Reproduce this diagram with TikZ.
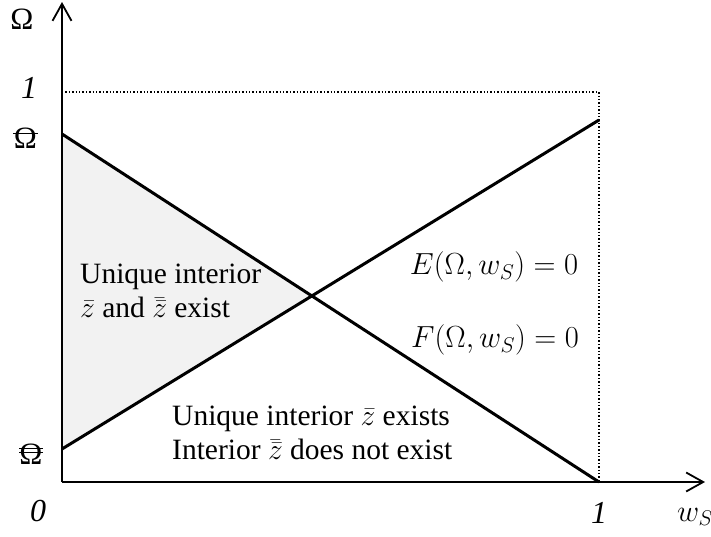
\RequirePackage{fix-cm}
\documentclass[tikz,border=0pt]{standalone}
\usepackage{fontspec}
\setmainfont{Liberation Serif}
\usetikzlibrary{arrows.meta}
\begin{document}
\begin{tikzpicture}[x=1pt,y=-1pt,
  axisline/.style={line width=1.8pt,-{Straight Barb[length=17pt,width=19pt,line width=1.8pt]}},
  curve/.style={line width=3pt},
  guide/.style={line width=1.4pt,dotted},
  barline/.style={line width=1.5pt},
  omlbl/.style={inner sep=0pt,font=\fontsize{31}{34}\selectfont},
  eqn/.style={inner sep=0pt,font=\fontsize{30.5}{34}\selectfont},
  num/.style={inner sep=0pt,font=\fontsize{32}{36}\selectfont\itshape},
  txt/.style={inner sep=0pt,align=left,font=\fontsize{29.5}{34.5}\selectfont}]
\useasboundingbox (0,0) rectangle (711,536);
\coordinate (O) at (62,482);
\coordinate (Ytop) at (62,2);
\coordinate (Xend) at (705,482);
\coordinate (Eleft) at (62,449);
\coordinate (Eright) at (599,120);
\coordinate (Fleft) at (62,134);
\coordinate (Fright) at (599,482);
\coordinate (Ione) at (62,92);
\coordinate (Corner) at (599,92);
\coordinate (X) at (312,296);
% shaded region
\fill[gray!10] (Fleft) -- (X) -- (Eleft) -- cycle;
% dotted guides
\draw[guide] (Ione) -- (Corner) -- (Fright);
% lines
\draw[curve] (Eleft) -- (Eright);
\draw[curve] (Fleft) -- (Fright);
% axes
\draw[axisline] (O) -- (Ytop);
\draw[axisline] (O) -- (Xend);
% curve labels
\node[eqn] (lE) at (494,267) {$E(\Omega,w_S)=0$};
\node[eqn] (lF) at (495,340) {$F(\Omega,w_S)=0$};
% axis labels
\node[omlbl] (lOmega) at (22,19) {Ω};
\node[num] (lone) at (29,88) {1};
\node[omlbl] (lOmbar) at (25.5,138) {Ω};
\draw[barline] ([xshift=-0.5pt,yshift=-6pt]lOmbar.north west) -- ([xshift=0.5pt,yshift=-6pt]lOmbar.north east);
\node[omlbl] (lOmbb) at (31,454) {Ω};
\draw[barline] ([yshift=-5pt]lOmbb.north west) -- ([yshift=-5pt]lOmbb.north east);
\draw[barline] ([yshift=-9pt]lOmbb.north west) -- ([yshift=-9pt]lOmbb.north east);
\node[num] (lzero) at (38,511) {0};
\node[num] (lxone) at (599,513) {1};
\node[eqn,anchor=west] (lws) at (677,517) {$w_S$};
% region labels
\node[txt,anchor=west] (r1) at (80,291) {Unique interior\\$\bar{z}$ and $\bar{\bar{z}}$ exist};
\node[txt,anchor=west] (r2) at (172,433) {Unique interior $\bar{z}$ exists\\Interior $\bar{\bar{z}}$ does not exist};
\end{tikzpicture}
\end{document}
